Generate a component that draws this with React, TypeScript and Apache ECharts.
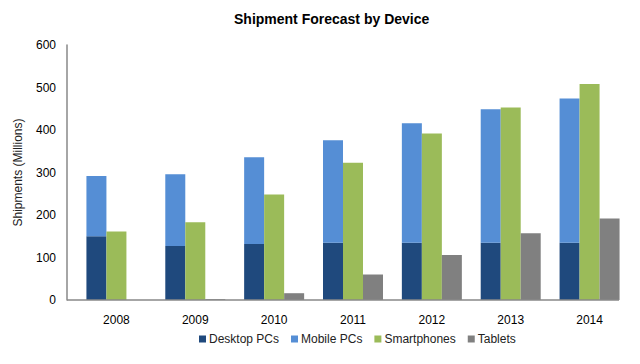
import React, { useEffect, useRef } from "react";
import * as echarts from "echarts";

const categories = ["2008", "2009", "2010", "2011", "2012", "2013", "2014"];
const desktopPCs = [150, 127, 132, 135, 135, 135, 135];
const mobilePCs = [142, 169, 204, 241, 281, 314, 339];
const smartphones = [161, 183, 248, 323, 392, 453, 508];
const tablets = [0, 2, 16, 60, 106, 157, 192];
const yTicks = { min: 0, max: 600, interval: 100 };

const FONT = "'Liberation Sans', Arial, sans-serif";

export default function App() {
  const ref = useRef<HTMLDivElement>(null);
  useEffect(() => {
    if (!ref.current) return;
    const chart = echarts.init(ref.current, null, { renderer: "svg" });
    chart.setOption({
      animation: false,
      backgroundColor: "#ffffff",
      textStyle: { fontFamily: FONT },
      title: {
        text: "Shipment Forecast by Device",
        left: 229,
        top: 7,
        textStyle: { fontFamily: FONT, fontSize: 14, fontWeight: "bold", color: "#000" },
      },
      legend: {
        left: 194,
        top: 328,
        itemWidth: 7,
        itemHeight: 7,
        itemGap: 12,
        icon: "rect",
        textStyle: { fontFamily: FONT, fontSize: 12, color: "#222", padding: [0, 0, 0, -2] },
        data: ["Desktop PCs", "Mobile PCs", "Smartphones", "Tablets"],
      },
      grid: { left: 77, right: 11, top: 45, bottom: 64 },
      xAxis: {
        type: "category",
        data: categories,
        axisLine: { show: false },
        axisTick: { show: false },
        axisLabel: { fontFamily: FONT, fontSize: 12, color: "#000", margin: 14 },
      },
      yAxis: {
        type: "value",
        min: yTicks.min,
        max: yTicks.max,
        interval: yTicks.interval,
        offset: 10,
        name: "Shipments (Millions)",
        nameLocation: "middle",
        nameGap: 43,
        nameTextStyle: { fontFamily: FONT, fontSize: 12, color: "#222" },
        axisLine: { show: true, lineStyle: { color: "#888", width: 1.5 } },
        axisTick: { show: false },
        splitLine: { show: false },
        axisLabel: { fontFamily: FONT, fontSize: 12, color: "#000", margin: 11 },
      },
      graphic: [
        {
          type: "line",
          shape: { x1: 67, y1: 300, x2: 619, y2: 300 },
          style: { stroke: "#888", lineWidth: 1.5 },
          z: 10,
        },
      ],
      series: [
        { name: "Desktop PCs", type: "bar", stack: "pc", data: desktopPCs, barWidth: 20, barGap: "0%", itemStyle: { color: "#1f497d" } },
        { name: "Mobile PCs", type: "bar", stack: "pc", data: mobilePCs, barWidth: 20, barGap: "0%", itemStyle: { color: "#558ed5" } },
        { name: "Smartphones", type: "bar", data: smartphones, barWidth: 20, barGap: "0%", itemStyle: { color: "#9bbb59" } },
        { name: "Tablets", type: "bar", data: tablets, barWidth: 20, barGap: "0%", itemStyle: { color: "#808080" } },
      ],
    });
    return () => chart.dispose();
  }, []);
  return <div ref={ref} style={{ width: 640, height: 364, position: "absolute", left: 0, top: 0 }} />;
}
